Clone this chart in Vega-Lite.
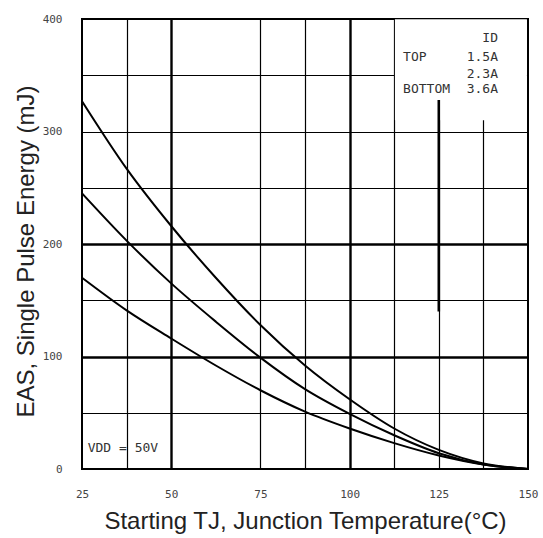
{
  "$schema": "https://vega.github.io/schema/vega-lite/v6.json",
  "autosize": {"type": "none"},
  "padding": {"left": 82, "top": 19, "right": 15, "bottom": 69},
  "width": 446,
  "height": 450,
  "background": "white",
  "config": {
    "view": {"stroke": "black", "strokeWidth": 2},
    "font": "Liberation Sans"
  },
  "layer": [
    {
      "data": {
        "values": [
          {"T": 25, "E": 327, "ID": "1.5A"},
          {"T": 37.5, "E": 267, "ID": "1.5A"},
          {"T": 50, "E": 216, "ID": "1.5A"},
          {"T": 62.5, "E": 170, "ID": "1.5A"},
          {"T": 75, "E": 128, "ID": "1.5A"},
          {"T": 87.5, "E": 92, "ID": "1.5A"},
          {"T": 100, "E": 62, "ID": "1.5A"},
          {"T": 112.5, "E": 36, "ID": "1.5A"},
          {"T": 125, "E": 17, "ID": "1.5A"},
          {"T": 137.5, "E": 5, "ID": "1.5A"},
          {"T": 150, "E": 0, "ID": "1.5A"},
          {"T": 25, "E": 245, "ID": "2.3A"},
          {"T": 37.5, "E": 203, "ID": "2.3A"},
          {"T": 50, "E": 165, "ID": "2.3A"},
          {"T": 62.5, "E": 131, "ID": "2.3A"},
          {"T": 75, "E": 99, "ID": "2.3A"},
          {"T": 87.5, "E": 71, "ID": "2.3A"},
          {"T": 100, "E": 49, "ID": "2.3A"},
          {"T": 112.5, "E": 30, "ID": "2.3A"},
          {"T": 125, "E": 14, "ID": "2.3A"},
          {"T": 137.5, "E": 4, "ID": "2.3A"},
          {"T": 150, "E": 0, "ID": "2.3A"},
          {"T": 25, "E": 170, "ID": "3.6A"},
          {"T": 37.5, "E": 141, "ID": "3.6A"},
          {"T": 50, "E": 116, "ID": "3.6A"},
          {"T": 62.5, "E": 92, "ID": "3.6A"},
          {"T": 75, "E": 70, "ID": "3.6A"},
          {"T": 87.5, "E": 51, "ID": "3.6A"},
          {"T": 100, "E": 36, "ID": "3.6A"},
          {"T": 112.5, "E": 23, "ID": "3.6A"},
          {"T": 125, "E": 12, "ID": "3.6A"},
          {"T": 137.5, "E": 4, "ID": "3.6A"},
          {"T": 150, "E": 0, "ID": "3.6A"}
        ]
      },
      "mark": {"type": "line", "color": "black", "strokeWidth": 2, "interpolate": "monotone"},
      "encoding": {
        "x": {
          "field": "T", "type": "quantitative",
          "scale": {"domain": [25, 150], "nice": false, "zero": false},
          "axis": {
            "title": "Starting TJ, Junction Temperature(°C)",
            "values": [25, 37.5, 50, 62.5, 75, 87.5, 100, 112.5, 125, 137.5, 150],
            "labelExpr": "datum.value % 25 == 0 ? datum.value : ''",
            "domain": false, "ticks": false, "tickSize": 0,
            "labelPadding": 19, "labelFont": "DejaVu Sans Mono", "labelFontSize": 11, "labelColor": "#444",
            "labelFlush": false,
            "grid": true, "gridColor": "black",
            "gridWidth": {"condition": {"test": "datum.value == 50 || datum.value == 100", "value": 2.4}, "value": 1.2},
            "gridOpacity": {"condition": {"test": "datum.value == 62.5 || datum.value == 25 || datum.value == 150", "value": 0}, "value": 1},
            "titleFont": "Liberation Sans", "titleFontSize": 24, "titleFontWeight": "normal", "titleColor": "#222",
            "titlePadding": 10
          }
        },
        "y": {
          "field": "E", "type": "quantitative",
          "scale": {"domain": [0, 400], "nice": false},
          "axis": {
            "title": "EAS, Single Pulse Energy (mJ)",
            "values": [0, 50, 100, 150, 200, 250, 300, 350, 400],
            "labelExpr": "datum.value % 100 == 0 ? datum.value : ''",
            "domain": false, "ticks": false, "tickSize": 0,
            "labelPadding": 20, "labelFont": "DejaVu Sans Mono", "labelFontSize": 11, "labelColor": "#444",
            "labelFlush": false,
            "grid": true, "gridColor": "black",
            "gridWidth": {"condition": {"test": "datum.value == 100 || datum.value == 200", "value": 2.4}, "value": 1.2},
            "gridOpacity": {"condition": {"test": "datum.value == 0 || datum.value == 400", "value": 0}, "value": 1},
            "titleFont": "Liberation Sans", "titleFontSize": 24, "titleFontWeight": "normal", "titleColor": "#222",
            "titlePadding": 4, "titleY": 232
          }
        },
        "detail": {"field": "ID", "type": "nominal"}
      }
    },
    {
      "data": {"values": [{}]},
      "mark": {"type": "rect", "fill": "white", "stroke": null},
      "encoding": {
        "x": {"datum": 112.7, "type": "quantitative"},
        "x2": {"datum": 149.7},
        "y": {"datum": 310, "type": "quantitative"},
        "y2": {"datum": 399.7}
      }
    },
    {
      "data": {"values": [{}]},
      "mark": {"type": "rule", "color": "black", "strokeWidth": 2.6},
      "encoding": {
        "x": {"datum": 125, "type": "quantitative"},
        "y": {"datum": 140, "type": "quantitative"},
        "y2": {"datum": 328}
      }
    },
    {
      "data": {"values": [{}]},
      "mark": {"type": "text", "font": "DejaVu Sans Mono", "fontSize": 13, "color": "#333", "align": "right", "baseline": "middle"},
      "encoding": {"x": {"datum": 141.6, "type": "quantitative"}, "y": {"datum": 383, "type": "quantitative"}, "text": {"value": "ID"}}
    },
    {
      "data": {"values": [{}]},
      "mark": {"type": "text", "font": "DejaVu Sans Mono", "fontSize": 13, "color": "#333", "align": "left", "baseline": "middle"},
      "encoding": {"x": {"datum": 115, "type": "quantitative"}, "y": {"datum": 366, "type": "quantitative"}, "text": {"value": "TOP"}}
    },
    {
      "data": {"values": [{}]},
      "mark": {"type": "text", "font": "DejaVu Sans Mono", "fontSize": 13, "color": "#333", "align": "right", "baseline": "middle"},
      "encoding": {"x": {"datum": 141.6, "type": "quantitative"}, "y": {"datum": 366, "type": "quantitative"}, "text": {"value": "1.5A"}}
    },
    {
      "data": {"values": [{}]},
      "mark": {"type": "text", "font": "DejaVu Sans Mono", "fontSize": 13, "color": "#333", "align": "right", "baseline": "middle"},
      "encoding": {"x": {"datum": 141.6, "type": "quantitative"}, "y": {"datum": 351, "type": "quantitative"}, "text": {"value": "2.3A"}}
    },
    {
      "data": {"values": [{}]},
      "mark": {"type": "text", "font": "DejaVu Sans Mono", "fontSize": 13, "color": "#333", "align": "left", "baseline": "middle"},
      "encoding": {"x": {"datum": 115, "type": "quantitative"}, "y": {"datum": 338, "type": "quantitative"}, "text": {"value": "BOTTOM"}}
    },
    {
      "data": {"values": [{}]},
      "mark": {"type": "text", "font": "DejaVu Sans Mono", "fontSize": 13, "color": "#333", "align": "right", "baseline": "middle"},
      "encoding": {"x": {"datum": 141.6, "type": "quantitative"}, "y": {"datum": 338, "type": "quantitative"}, "text": {"value": "3.6A"}}
    },
    {
      "data": {"values": [{}]},
      "mark": {"type": "text", "font": "DejaVu Sans Mono", "fontSize": 13, "color": "#333", "align": "left", "baseline": "middle"},
      "encoding": {"x": {"datum": 26.6, "type": "quantitative"}, "y": {"datum": 19, "type": "quantitative"}, "text": {"value": "VDD = 50V"}}
    }
  ]
}
